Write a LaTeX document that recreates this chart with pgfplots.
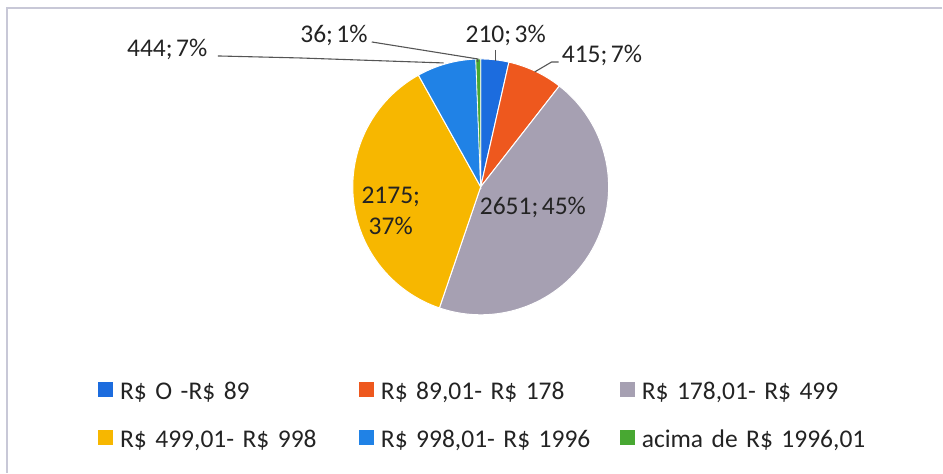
\documentclass[border=0pt]{standalone}
\usepackage{fontspec}
\setmainfont{Carlito}[WordSpace=0.6]
\usepackage{pgfplots}
\pgfplotsset{compat=1.18}
\definecolor{cA}{RGB}{28,108,222}
\definecolor{cB}{RGB}{238,88,30}
\definecolor{cC}{RGB}{166,160,178}
\definecolor{cD}{RGB}{247,183,0}
\definecolor{cE}{RGB}{32,130,230}
\definecolor{cF}{RGB}{72,168,50}
\definecolor{tc}{RGB}{35,35,35}
\definecolor{lc}{RGB}{85,85,85}
\definecolor{fc}{RGB}{200,200,215}
\begin{document}
\begin{tikzpicture}[font=\fontsize{25.5}{30}\selectfont]
\begin{axis}[
  scale only axis, width=943pt, height=473pt,
  xmin=0, xmax=943, ymin=0, ymax=473,
  axis lines=none, clip=false,
  legend columns=3,
  legend style={at={(axis cs:98,91)}, anchor=north west, draw=none, fill=none,
    inner sep=0pt, row sep=25pt,
    nodes={inner xsep=7pt, inner ysep=0pt, text width=205pt, text height=17pt,
      text depth=6pt, align=left, text=tc},
    /tikz/column 2/.append style={column sep=27pt},
    /tikz/column 4/.append style={column sep=27pt}},
  legend image code/.code={\fill[#1,draw=none] (0pt,-3pt) rectangle (15pt,12pt);},
]
\path (axis cs:0,0) rectangle (axis cs:943,473);
% slices: values 210, 415, 2651, 2175, 444, 36 (total 5931), clockwise from top
\addplot[fill=cA, draw=white, line width=1pt, samples=30, domain={0/5931*360}:{210/5931*360}]
  ({481+128*sin(x)}, {286+128*cos(x)}) -- (axis cs:481,286) -- cycle;
\addlegendentry{\mbox{R\$ O -R\$ 89}}
\addplot[fill=cB, draw=white, line width=1pt, samples=30, domain={210/5931*360}:{625/5931*360}]
  ({481+128*sin(x)}, {286+128*cos(x)}) -- (axis cs:481,286) -- cycle;
\addlegendentry{\mbox{R\$ 89,01- R\$ 178}}
\addplot[fill=cC, draw=white, line width=1pt, samples=80, domain={625/5931*360}:{3276/5931*360}]
  ({481+128*sin(x)}, {286+128*cos(x)}) -- (axis cs:481,286) -- cycle;
\addlegendentry{\mbox{R\$ 178,01- R\$ 499}}
\addplot[fill=cD, draw=white, line width=1pt, samples=70, domain={3276/5931*360}:{5451/5931*360}]
  ({481+128*sin(x)}, {286+128*cos(x)}) -- (axis cs:481,286) -- cycle;
\addlegendentry{\mbox{R\$ 499,01- R\$ 998}}
\addplot[fill=cE, draw=white, line width=1pt, samples=30, domain={5451/5931*360}:{5895/5931*360}]
  ({481+128*sin(x)}, {286+128*cos(x)}) -- (axis cs:481,286) -- cycle;
\addlegendentry{\mbox{R\$ 998,01- R\$ 1996}}
\addplot[fill=cF, draw=white, line width=0.6pt, samples=10, domain={5895/5931*360}:{5931/5931*360}]
  ({481+128*sin(x)}, {286+128*cos(x)}) -- (axis cs:481,286) -- cycle;
\addlegendentry{\mbox{acima de R\$ 1996,01}}

% frame
\draw[fc, line width=1.2pt] (axis cs:7,0) -- (axis cs:7,465) -- (axis cs:943,465);

% leader lines
\draw[lc, line width=1.1pt] (axis cs:496,423) -- (axis cs:496,412);
\draw[lc, line width=1.1pt] (axis cs:535,401) -- (axis cs:552,411) -- (axis cs:559,411);
\draw[lc, line width=1.1pt] (axis cs:372,431) -- (axis cs:478,414) -- (axis cs:478,411);
\draw[lc, line width=1.1pt] (axis cs:218,417) -- (axis cs:300,415) -- (axis cs:444,410);

% data labels
\node[anchor=base, inner sep=0pt, text=tc] at (axis cs:506,430) {210; 3\%};
\node[anchor=base west, inner sep=0pt, text=tc] at (axis cs:562,410) {415; 7\%};
\node[anchor=base east, inner sep=0pt, text=tc] at (axis cs:368,430) {36; 1\%};
\node[anchor=base west, inner sep=0pt, text=tc] at (axis cs:127,416) {444; 7\%};
\node[anchor=base, inner sep=0pt, text=tc] at (axis cs:391,269) {2175;};
\node[anchor=base, inner sep=0pt, text=tc] at (axis cs:391,238) {37\%};
\node[anchor=base west, inner sep=0pt, text=tc] at (axis cs:480,258) {2651; 45\%};
\end{axis}
\end{tikzpicture}
\end{document}
